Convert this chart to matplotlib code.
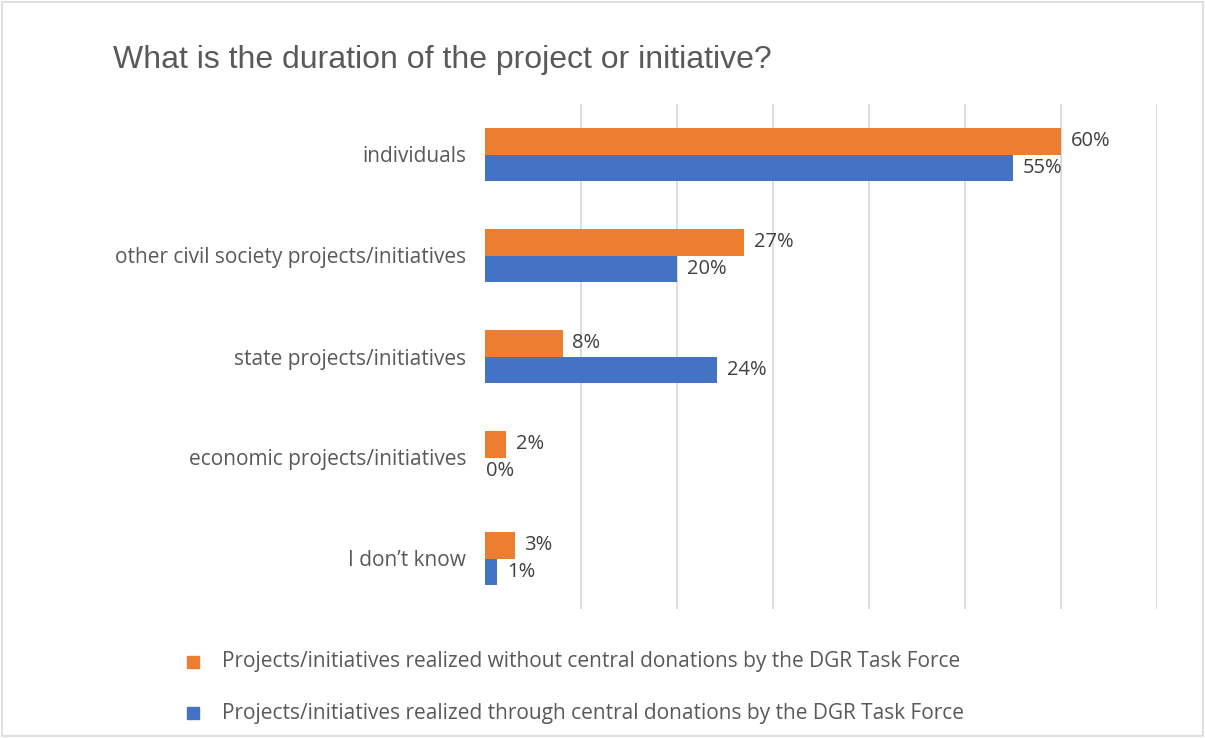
import numpy as np
import matplotlib
matplotlib.use("Agg")
import matplotlib.pyplot as plt
from matplotlib.patches import Rectangle

categories = ["individuals", "other civil society projects/initiatives",
              "state projects/initiatives", "economic projects/initiatives",
              "I don\u2019t know"]
without_central = [0.60, 0.27, 0.081, 0.022, 0.031]   # orange
through_central = [0.55, 0.20, 0.242, 0.0, 0.0125]    # blue
series_names = ["Projects/initiatives realized without central donations by the DGR Task Force",
                "Projects/initiatives realized through central donations by the DGR Task Force"]
ticks = [0.1, 0.2, 0.3, 0.4, 0.5, 0.6, 0.7]

ORANGE = "#ED7D31"
BLUE = "#4472C4"
GRID = "#D9D9D9"
TXT = "#595959"
LBL = "#404040"

W, H = 1205, 738
fig = plt.figure(figsize=(W / 100, H / 100), dpi=100)
plt.rcParams["font.family"] = ["Open Sans", "DejaVu Sans"]

# outer chart border
fig.patches.append(Rectangle((2 / W, 2 / H), 1 - 4 / W, 1 - 4 / H, transform=fig.transFigure,
                             fill=False, ec="#D9D9D9", lw=1.2))

# axes in pixel coords: x 485..1157 (0..0.7), y 104..609
x0, x1, ytop, ybot = 485, 1157, 104, 609
ax = fig.add_axes([x0 / W, 1 - ybot / H, (x1 - x0) / W, (ybot - ytop) / H])

n = len(categories)
y = np.arange(n)
bh = 0.258
ax.barh(y - bh / 2, without_central, height=bh, color=ORANGE, label=series_names[0])
ax.barh(y + bh / 2, through_central, height=bh, color=BLUE, label=series_names[1])

for yi, v in zip(y, without_central):
    ax.annotate(f"{v:.0%}", (v, yi - bh / 2), xytext=(7, 0), textcoords="offset points",
                va="center", ha="left", fontsize=14.5, color=LBL)
for yi, v in zip(y, through_central):
    ax.annotate(f"{v:.0%}", (v, yi + bh / 2), xytext=(0.5 if v == 0 else 7, 0),
                textcoords="offset points", va="center", ha="left", fontsize=14.5, color=LBL)

ax.set_xlim(0, 0.7)
ax.set_ylim(n - 0.5, -0.5)
ax.set_xticks(ticks)
ax.set_xticklabels([])
ax.tick_params(axis="x", length=0)
ax.grid(axis="x", color=GRID, lw=1.3)
ax.set_axisbelow(True)
ax.set_yticks(y)
ax.set_yticklabels(categories, fontsize=15, color=TXT)
ax.tick_params(axis="y", length=0, pad=13.5)
for s in ax.spines.values():
    s.set_visible(False)

fig.text(113 / W, 1 - 60 / H, "What is the duration of the project or initiative?",
         fontsize=23, color=TXT, va="center", ha="left", family=["Liberation Sans", "DejaVu Sans"])

# legend
for i, (name, col) in enumerate(zip(series_names, [ORANGE, BLUE])):
    yc = 662 + i * 51
    fig.patches.append(Rectangle((187 / W, 1 - (yc + 6) / H), 12 / W, 12 / H,
                                 transform=fig.transFigure, color=col))
    fig.text(222 / W, 1 - yc / H, name, fontsize=15, color=TXT, va="center", ha="left")

fig.savefig("out.png", dpi=100)
